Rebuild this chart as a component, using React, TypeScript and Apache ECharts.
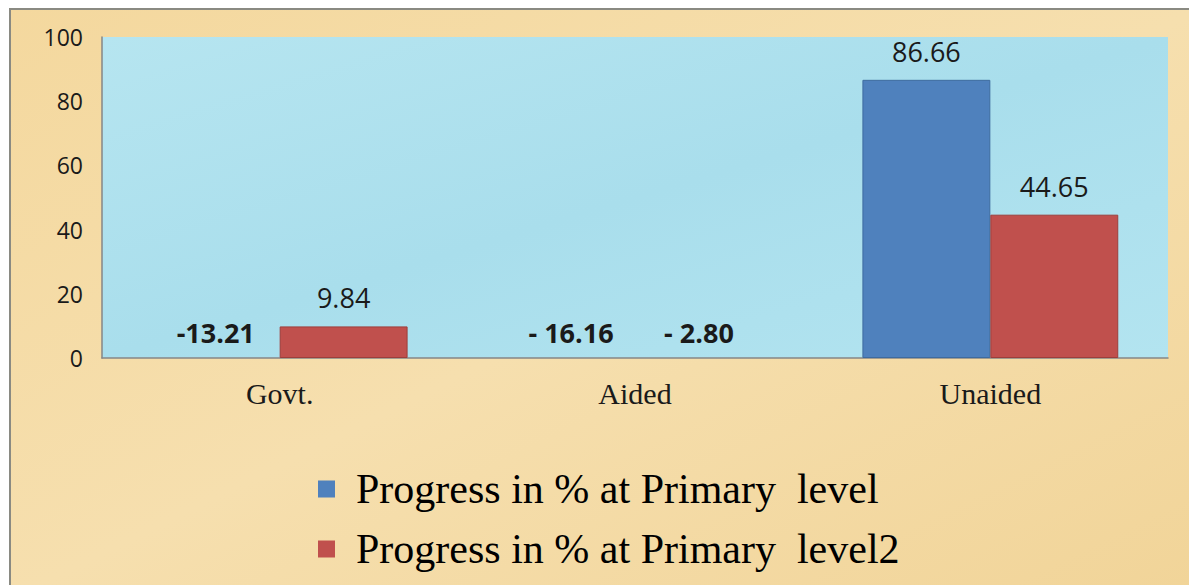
import React, { useEffect, useRef } from "react";
import * as echarts from "echarts";

const categories = ["Govt.", "Aided", "Unaided"];
const seriesNames = ["Progress in % at Primary  level", "Progress in % at Primary  level2"];
const primaryValues = [-13.21, -16.16, 86.66];
const level2Values = [9.84, -2.8, 44.65];
const primaryLabels = ["-13.21", "- 16.16", "86.66"];
const level2Labels = ["9.84", "- 2.80", "44.65"];
const yTicks = { min: 0, max: 100, interval: 20 };
const colors = ["#4f81bd", "#c0504d"];
const borderColors = ["#3e6b9f", "#9e3e3b"];

function buildData(values: number[], labels: string[], idx: number) {
  return values.map((v, i) => {
    const neg = v < 0;
    return {
      value: v,
      itemStyle: neg
        ? { color: "rgba(0,0,0,0)", borderWidth: 0 }
        : { color: colors[idx], borderColor: borderColors[idx], borderWidth: 1 },
      label: {
        show: true,
        position: "top",
        distance: neg ? 12 : 15,
        formatter: labels[i],
        fontFamily: "Open Sans",
        fontSize: 27,
        fontWeight: neg ? "bold" : "normal",
        color: "#1a1a1a",
      },
    };
  });
}

export default function App() {
  const ref = useRef<HTMLDivElement>(null);
  useEffect(() => {
    document.body.style.margin = "0";
    if (!ref.current) return;
    const chart = echarts.init(ref.current, null, { renderer: "svg" });
    chart.setOption({
      animation: false,
      backgroundColor: "#ffffff",
      graphic: [
        {
          type: "rect",
          z: -10,
          silent: true,
          shape: { x: 10, y: 9, width: 1190, height: 590 },
          style: {
            fill: new echarts.graphic.LinearGradient(0, 0, 1, 1, [
              { offset: 0, color: "#f4d89e" },
              { offset: 0.5, color: "#f6dfae" },
              { offset: 1, color: "#f1d498" },
            ]),
            stroke: "#8a8a82",
            lineWidth: 2,
          },
        },
      ],
      grid: {
        left: 102,
        top: 37,
        right: 21,
        bottom: 227,
        show: true,
        borderWidth: 0,
        backgroundColor: new echarts.graphic.LinearGradient(0, 0, 1, 1, [
          { offset: 0, color: "#b6e5f0" },
          { offset: 0.5, color: "#a9deec" },
          { offset: 1, color: "#b3e4f0" },
        ]),
      },
      legend: {
        orient: "vertical",
        left: 313,
        top: 461,
        itemWidth: 17,
        itemHeight: 17,
        itemGap: 14,
        icon: "rect",
        data: seriesNames,
        textStyle: {
          fontFamily: "Liberation Serif",
          fontSize: 42,
          lineHeight: 46,
          color: "#000",
          padding: [0, 0, 0, 16],
        },
      },
      xAxis: {
        type: "category",
        data: categories,
        axisLine: { show: true, lineStyle: { color: "#868686", width: 1.5 } },
        axisTick: { show: false },
        axisLabel: {
          fontFamily: "Liberation Serif",
          fontSize: 30,
          color: "#1a1a1a",
          margin: 20,
        },
      },
      yAxis: {
        type: "value",
        min: yTicks.min,
        max: yTicks.max,
        interval: yTicks.interval,
        axisLine: { show: true, lineStyle: { color: "#868686", width: 1.5 } },
        axisTick: { show: false },
        splitLine: { show: false },
        axisLabel: {
          fontFamily: "Open Sans",
          fontSize: 23,
          color: "#1a1a1a",
          margin: 19,
        },
      },
      series: [
        {
          name: seriesNames[0],
          type: "bar",
          clip: false,
          barGap: "0%",
          barCategoryGap: "28%",
          itemStyle: { color: colors[0] },
          data: buildData(primaryValues, primaryLabels, 0),
        },
        {
          name: seriesNames[1],
          type: "bar",
          clip: false,
          barGap: "0%",
          barCategoryGap: "28%",
          itemStyle: { color: colors[1] },
          data: buildData(level2Values, level2Labels, 1),
        },
      ],
    });
    return () => chart.dispose();
  }, []);
  return <div ref={ref} style={{ width: 1189, height: 585 }} />;
}
